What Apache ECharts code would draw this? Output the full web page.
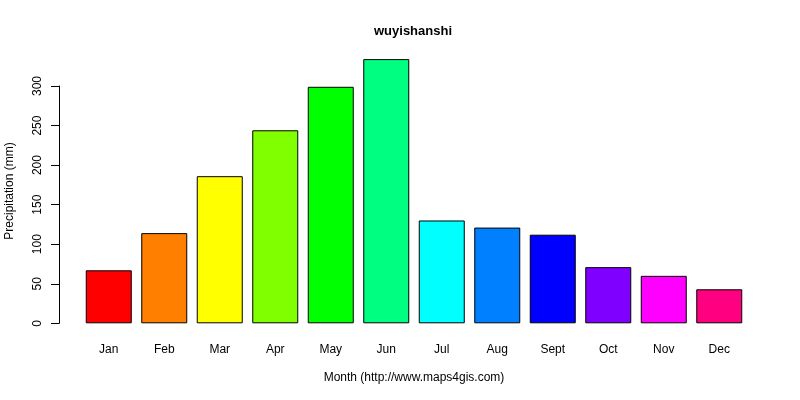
<!DOCTYPE html>
<html>
<head>
<meta charset="utf-8">
<script src="https://cdn.jsdelivr.net/npm/echarts@6/dist/echarts.min.js"></script>
<style>html,body{margin:0;padding:0;background:#fff;}#main{width:800px;height:400px;}</style>
</head>
<body>
<div id="main"></div>
<script>
var months = ['Jan','Feb','Mar','Apr','May','Jun','Jul','Aug','Sept','Oct','Nov','Dec'];
var precipitation = [67, 114, 186, 244, 299, 334, 130, 121, 112, 71, 60, 43];
var barColors = ['#FF0000','#FF8000','#FFFF00','#80FF00','#00FF00','#00FF80','#00FFFF','#0080FF','#0000FF','#8000FF','#FF00FF','#FF0080'];
var yTicks = {min: 0, max: 300, interval: 50};
var titleText = 'wuyishanshi';
var xTitle = 'Month (http://www.maps4gis.com)';
var yTitle = 'Precipitation (mm)';

var chart = echarts.init(document.getElementById('main'), null, {renderer: 'canvas'});
var font = 'Liberation Sans, Arial, sans-serif';
chart.setOption({
  animation: false,
  backgroundColor: '#ffffff',
  textStyle: {fontFamily: font},
  graphic: [
    {type: 'text', left: 'auto', x: 413, y: 31, style: {text: titleText, fontFamily: font, fontSize: 13, fontWeight: 'bold', fill: '#000', textAlign: 'center', textVerticalAlign: 'middle'}},
    {type: 'text', x: 10, y: 191, rotation: Math.PI / 2, style: {text: yTitle, fontFamily: font, fontSize: 12, fill: '#000', textAlign: 'center', textVerticalAlign: 'middle'}}
  ],
  grid: {left: 81, right: 53, top: 86, bottom: 76.7},
  xAxis: {
    type: 'category',
    data: months,
    axisLine: {show: false},
    axisTick: {show: false},
    axisLabel: {color: '#000', fontSize: 12, fontFamily: font, margin: 20},
    name: xTitle,
    nameLocation: 'middle',
    nameGap: 48,
    nameTextStyle: {color: '#000', fontSize: 12, fontFamily: font}
  },
  yAxis: {
    type: 'value',
    min: yTicks.min, max: yTicks.max, interval: yTicks.interval,
    offset: 22,
    axisLine: {show: true, lineStyle: {color: '#000', width: 1}},
    axisTick: {show: true, length: 8, lineStyle: {color: '#000', width: 1}},
    axisLabel: {color: '#000', fontSize: 12, fontFamily: font, rotate: 90, margin: 15},
    splitLine: {show: false}
  },
  series: [{
    type: 'bar',
    clip: false,
    barWidth: 46,
    data: precipitation.map(function (v, i) {
      return {value: v, itemStyle: {color: barColors[i], borderColor: '#000', borderWidth: 1}};
    })
  }]
});
</script>
</body>
</html>
